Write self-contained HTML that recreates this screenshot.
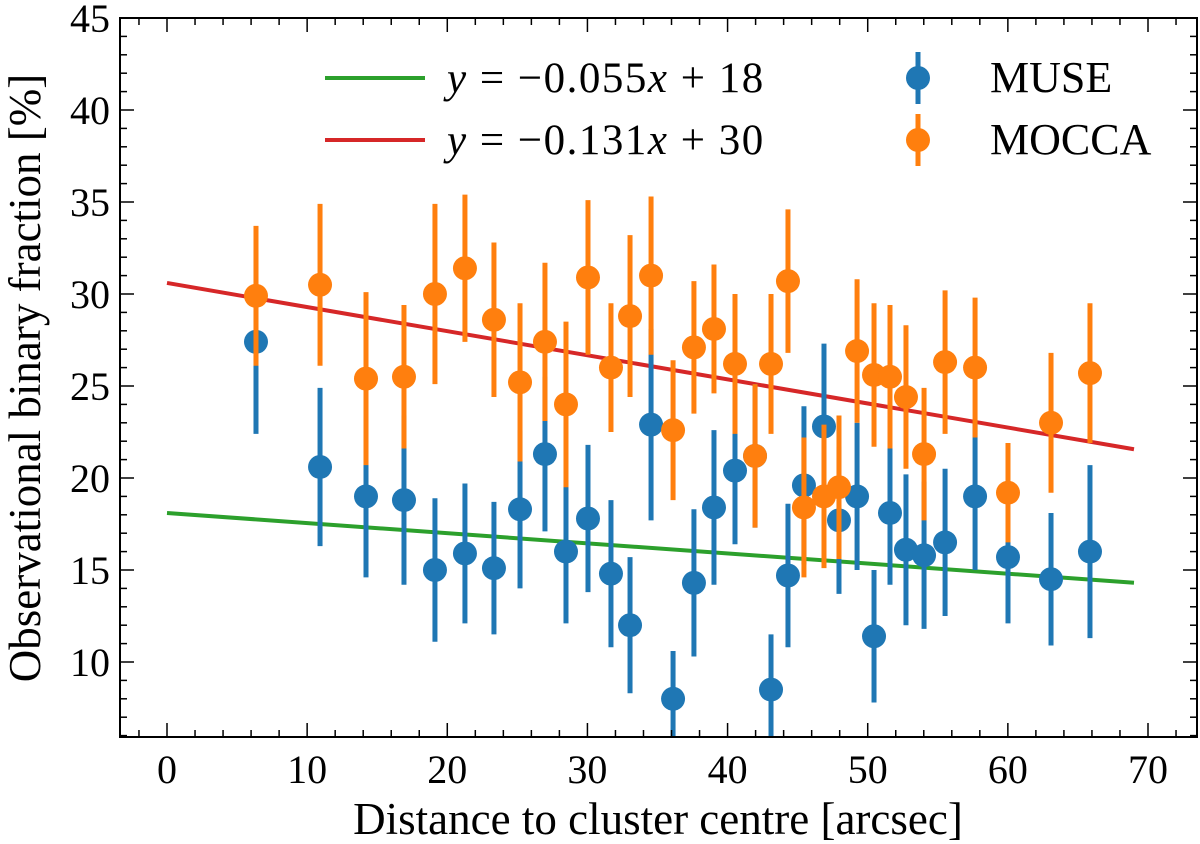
<!DOCTYPE html>
<html><head><meta charset="utf-8"><style>
body{margin:0;background:#fff;}
svg{display:block;font-family:"Liberation Serif",serif;}
</style></head><body>
<svg id="chart" width="1200" height="844" xmlns="http://www.w3.org/2000/svg"></svg>
<script>
const xs = [6.35,10.92,14.2,16.91,19.12,21.26,23.33,25.19,26.97,28.47,30.04,31.68,33.04,34.54,36.11,37.6,39.03,40.53,41.96,43.1,44.31,45.45,46.88,47.95,49.24,50.45,51.59,52.73,54.02,55.52,57.66,60.01,63.08,65.86];
const museY = [27.4,20.6,19.0,18.8,15.0,15.9,15.1,18.3,21.3,16.0,17.8,14.8,12.0,22.9,8.0,14.3,18.4,20.4,21.2,8.5,14.7,19.6,22.8,17.7,19.0,11.4,18.1,16.1,15.8,16.5,19.0,15.7,14.5,16.0];
const museErr = [5.0,4.3,4.4,4.6,3.9,3.8,3.6,4.3,4.2,3.9,4.0,4.0,3.7,5.2,2.6,4.0,4.2,4.0,3.9,3.0,3.9,4.3,4.5,4.0,4.0,3.6,3.9,4.1,4.0,4.0,4.0,3.6,3.6,4.7];
const moccaY = [29.9,30.5,25.4,25.5,30.0,31.4,28.6,25.2,27.4,24.0,30.9,26.0,28.8,31.0,22.6,27.1,28.1,26.2,21.2,26.2,30.7,18.4,19.0,19.5,26.9,25.6,25.5,24.4,21.3,26.3,26.0,19.2,23.0,25.7];
const moccaErr = [3.8,4.4,4.7,3.9,4.9,4.0,4.2,4.3,4.3,4.5,4.2,3.5,4.4,4.3,3.8,3.6,3.5,3.8,3.9,3.8,3.9,3.8,3.9,3.9,3.9,3.9,3.9,3.9,3.6,3.9,3.8,2.7,3.8,3.8];
const fitGreen = [-0.055, 18.1];
const fitRed = [-0.131, 30.6];
const xTicks = [0,10,20,30,40,50,60,70];
const yTicks = [10,15,20,25,30,35,40,45];

const L=120,R=1197,T=18,B=737;
const X=v=>167+v*(1148-167)/70;
const Y=v=>18+(45-v)*(662-18)/35;
const svg=document.getElementById('chart');
const NS='http://www.w3.org/2000/svg';
function mk(tag,attrs,parent){const e=document.createElementNS(NS,tag);for(const k in attrs)e.setAttribute(k,attrs[k]);(parent||svg).appendChild(e);return e;}

const defs=mk('defs',{});const cp=mk('clipPath',{id:'clip'},defs);mk('rect',{x:L,y:T,width:R-L,height:B-T},cp);
const plot=mk('g',{'clip-path':'url(#clip)'});



function fit(p,color,name){const l=mk('line',{x1:X(0),y1:Y(p[1]),x2:X(69),y2:Y(p[0]*69+p[1]),stroke:color,'stroke-width':4},plot);

}
fit(fitGreen,'#2ca02c','fit-line-muse');
fit(fitRed,'#d62728','fit-line-mocca');

function series(ys,errs,color,name){
  const g=mk('g',{},plot);
  
  
  ys.forEach((v,i)=>{
    const eb=mk('line',{x1:X(xs[i]),x2:X(xs[i]),y1:Y(v-errs[i]),y2:Y(v+errs[i]),stroke:color,'stroke-width':5},g);
    
    
    const c=mk('circle',{cx:X(xs[i]),cy:Y(v),r:12,fill:color},g);
    
    
  });
}
series(museY,museErr,'#1f77b4','muse-series');
series(moccaY,moccaErr,'#ff7f0e','mocca-series');

const fr=mk('rect',{x:L,y:T,width:R-L,height:B-T,fill:'none',stroke:'#000','stroke-width':2});


for(let v=-2;v<=74;v+=2){const x=X(v);if(x<L||x>R)continue;const major=v%10===0;const len=major?14:7;
mk('line',{x1:x,x2:x,y1:B,y2:B-len,stroke:'#000','stroke-width':1.5});mk('line',{x1:x,x2:x,y1:T,y2:T+len,stroke:'#000','stroke-width':1.5});}
for(let v=6;v<=45;v++){const y=Y(v);const major=v%5===0;const len=major?14:7;
mk('line',{x1:L,x2:L+len,y1:y,y2:y,stroke:'#000','stroke-width':1.5});mk('line',{x1:R,x2:R-len,y1:y,y2:y,stroke:'#000','stroke-width':1.5});}
xTicks.forEach(v=>{const t=mk('text',{x:X(v),y:B+46,'font-size':40,'text-anchor':'middle'});t.textContent=v;

});
yTicks.forEach(v=>{const t=mk('text',{x:L-10,y:Y(v)+14,'font-size':40,'text-anchor':'end'});t.textContent=v;

});
const xt=mk('text',{x:658,y:834,'font-size':45,'text-anchor':'middle'});xt.textContent='Distance to cluster centre [arcsec]';


const yt=mk('text',{x:0,y:0,'font-size':45,'text-anchor':'middle',transform:'translate(40,378) rotate(-90)'});yt.textContent='Observational binary fraction [%]';



const lg=mk('g',{});


function legLine(y,color,label){mk('line',{x1:325,x2:425,y1:y,y2:y,stroke:color,'stroke-width':4},lg);
const t=mk('text',{x:447,y:y+14,'font-size':43,'letter-spacing':'1.5'},lg);t.innerHTML=label;

}
legLine(78,'#2ca02c','<tspan font-style="italic">y</tspan> = −0.055<tspan font-style="italic">x</tspan> + 18');
legLine(140,'#d62728','<tspan font-style="italic">y</tspan> = −0.131<tspan font-style="italic">x</tspan> + 30');
function legPt(y,color,label){mk('line',{x1:918,x2:918,y1:y-26,y2:y+26,stroke:color,'stroke-width':5},lg);mk('circle',{cx:918,cy:y,r:12,fill:color},lg);
const t=mk('text',{x:990,y:y+14,'font-size':44},lg);t.textContent=label;

}
legPt(78,'#1f77b4','MUSE');
legPt(140,'#ff7f0e','MOCCA');
</script>
</body></html>
